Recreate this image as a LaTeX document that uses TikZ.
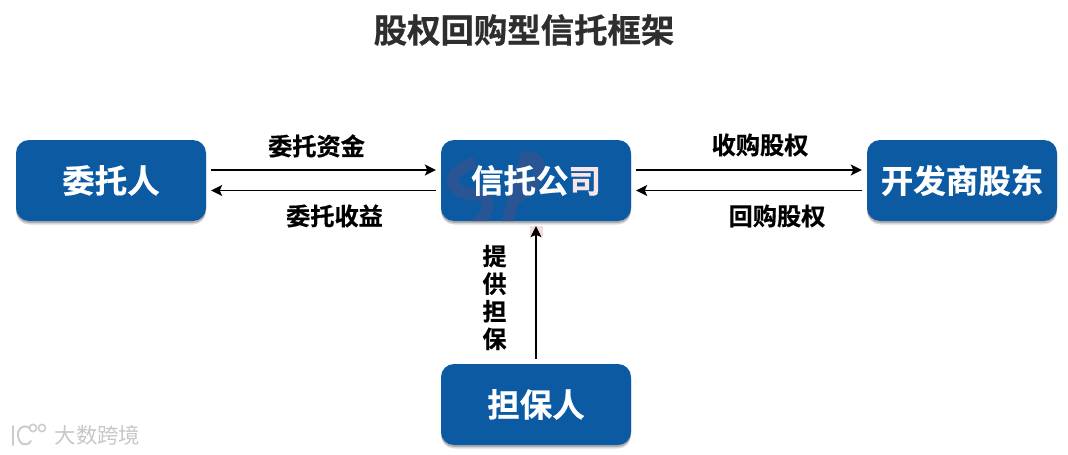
\documentclass[tikz,border=0pt]{standalone}
\usepackage{fontspec}
\setmainfont{Noto Sans CJK SC}[BoldFont={Noto Sans CJK SC Bold},BoldFeatures={FakeBold=0.6}]
\usetikzlibrary{arrows.meta,shadows,calc}
\definecolor{boxblue}{HTML}{0B5AA2}
\definecolor{titlegray}{HTML}{2E2E2E}
\definecolor{pinkwhite}{HTML}{FBE4E8}
\definecolor{pinktint}{HTML}{F6DADF}
\definecolor{markblue}{HTML}{2A5594}
\tikzset{
  boxnode/.style={draw=none,fill=boxblue,rounded corners=13pt,minimum width=190pt,minimum height=81pt,inner sep=0pt,
    drop shadow={shadow xshift=0pt,shadow yshift=-3.5pt,opacity=.14,fill=black},
    drop shadow={shadow xshift=0pt,shadow yshift=-2pt,opacity=.2,fill=black},
    text=white,font=\fontsize{32.5}{36}\selectfont\bfseries},
  lbl/.style={inner sep=0pt,text=black,font=\fontsize{24.2}{26}\selectfont\bfseries},
  conn/.style={draw=black,line width=1.6pt,-{Stealth[length=11pt,width=11pt,inset=2.5pt]}},
  logoline/.style={draw=black!20,line width=2pt,line cap=round},
  markstroke/.style={draw=markblue,line width=12pt,rounded corners=0pt},
}
\begin{document}
\begin{tikzpicture}[x=1pt,y=-1pt]
\useasboundingbox (0,0) rectangle (1068,455);
\fill[white] (0,0) rectangle (1068,455);
\node[inner sep=0pt,text=titlegray,font=\fontsize{33.4}{36}\selectfont\bfseries] (title) at (524,30) {股权回购型信托框架};
\node[boxnode] (wt) at (111,180.5) {委托人};
\node[boxnode,path picture={
    \draw[markstroke] (-74,51.5) .. controls (-74,33.5) and (-58,25.5) .. (-36,25.5);
    \draw[markstroke] (4,-30.5) .. controls (-26,-20.5) and (-26,-0.5) .. (4,1.5) .. controls (24,3.5) and (20,23.5) .. (-4,37.5);
    \draw[markstroke] (32,45.5) -- (54,-34.5) .. controls (74,-40.5) and (76,-4.5) .. (42,5.5);
  }] (xt) at (536,180.5) {信托公\textcolor{pinkwhite}{司}};
\node[boxnode] (kf) at (962,180.5) {开发商股东};
\node[boxnode] (db) at (536,404.5) {担保人};
\fill[pinktint] (530,226) rectangle (543,236);
\draw[conn] ([xshift=5pt,yshift=10.5pt]wt.east) -- ([xshift=-5pt,yshift=10.5pt]xt.west);
\draw[conn] ([xshift=-5pt,yshift=-10pt]xt.west) -- ([xshift=5pt,yshift=-10pt]wt.east);
\draw[conn] ([xshift=5pt,yshift=10.5pt]xt.east) -- ([xshift=-5pt,yshift=10.5pt]kf.west);
\draw[conn] ([xshift=-5pt,yshift=-10pt]kf.west) -- ([xshift=5pt,yshift=-10pt]xt.east);
\draw[conn] ([yshift=5pt]db.north) -- ([yshift=-5pt]xt.south);
\node[lbl] (l1) at (316.5,146) {委托资金};
\node[lbl] (l2) at (334.5,216) {委托收益};
\node[lbl] (l3) at (760,145) {收购股权};
\node[lbl] (l4) at (777,216) {回购股权};
\node[lbl,align=center,font=\fontsize{24}{27.6}\selectfont\bfseries] (l5) at (494.5,297.5) {提\\供\\担\\保};
% watermark logo
\draw[logoline] (13,426) -- (13,445);
\draw[logoline] (30,428) .. controls (21,423) and (17,431) .. (18,436) .. controls (19,445) and (27,447) .. (31,441);
\draw[logoline,line width=1.6pt] (33,428) circle (3.6);
\draw[logoline,line width=1.6pt] (42,428) circle (3.6);
\node[inner sep=0pt,text=black!22,font=\fontsize{21.4}{24}\selectfont] (wm) at (97.5,435) {大数跨境};
\end{tikzpicture}
\end{document}
